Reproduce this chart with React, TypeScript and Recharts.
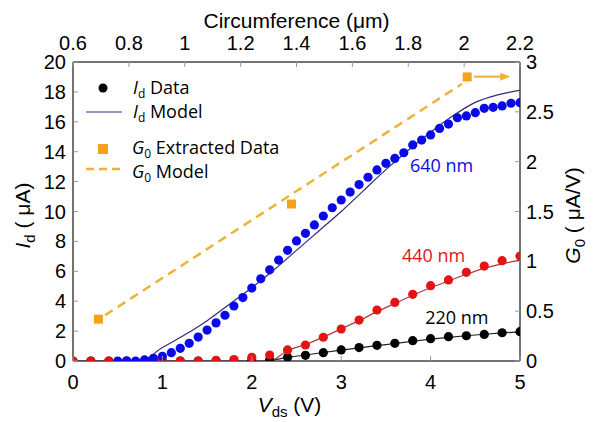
import React from 'react';
import { ComposedChart, Line, Scatter, XAxis, YAxis, Legend, ReferenceLine, ReferenceDot, Label } from 'recharts';

// Vds sweep for each device (V) and measured drain current (µA)
const vds640 = [0.5, 0.6, 0.7, 0.8, 0.9, 1.0, 1.1, 1.2, 1.3, 1.4, 1.5, 1.6, 1.7, 1.8, 1.9, 2.0, 2.1, 2.2, 2.3, 2.4, 2.5, 2.6, 2.7, 2.8, 2.9, 3.0, 3.1, 3.2, 3.3, 3.4, 3.5, 3.6, 3.7, 3.8, 3.9, 4.0, 4.1, 4.2, 4.3, 4.4, 4.5, 4.6, 4.7, 4.8, 4.9, 5.0];
const id640 = [0, 0, 0, 0.07, 0.18, 0.31, 0.56, 0.85, 1.18, 1.6, 2.07, 2.55, 3.06, 3.68, 4.24, 4.88, 5.5, 6.1, 6.75, 7.4, 8.03, 8.54, 9.1, 9.7, 10.25, 10.77, 11.3, 11.8, 12.29, 12.78, 13.22, 13.55, 13.93, 14.45, 14.78, 15.12, 15.56, 15.85, 16.27, 16.39, 16.61, 16.9, 16.97, 17.06, 17.24, 17.28];

const vds440 = [0, 0.2, 0.4, 0.6, 0.8, 1.0, 1.2, 1.4, 1.6, 1.8, 2.0, 2.2, 2.4, 2.6, 2.8, 3.0, 3.2, 3.4, 3.6, 3.8, 4.0, 4.2, 4.4, 4.6, 4.8, 5.0];
const id440 = [0, 0, 0, 0, 0, 0, 0, 0, 0.05, 0.1, 0.25, 0.4, 0.74, 1.07, 1.59, 2.14, 2.74, 3.41, 3.92, 4.46, 5.04, 5.42, 5.93, 6.35, 6.71, 7.02];

const vds220 = [0, 0.2, 0.4, 0.6, 0.8, 1.0, 1.2, 1.4, 1.6, 1.8, 2.0, 2.2, 2.4, 2.6, 2.8, 3.0, 3.2, 3.4, 3.6, 3.8, 4.0, 4.2, 4.4, 4.6, 4.8, 5.0];
const id220 = [0, 0, 0, 0, 0, 0, 0, 0, 0, 0, 0.05, 0.08, 0.25, 0.38, 0.56, 0.74, 0.9, 1.05, 1.18, 1.36, 1.49, 1.63, 1.69, 1.78, 1.89, 1.96];

// model curves
const vModel640 = [0, 0.75, 1.0, 1.25, 1.5, 1.75, 2.0, 2.25, 2.5, 2.75, 3.0, 3.25, 3.5, 3.75, 4.0, 4.25, 4.5, 4.75, 5.0];
const idModel640 = [0, 0, 0.9, 1.75, 2.7, 3.8, 4.9, 6.1, 7.4, 8.7, 10.0, 11.4, 12.8, 14.1, 15.3, 16.4, 17.3, 17.8, 18.1];
const vModel440 = [0, 2.2, 2.4, 2.6, 2.8, 3.0, 3.2, 3.4, 3.6, 3.8, 4.0, 4.2, 4.4, 4.6, 4.8, 5.0];
const idModel440 = [0, 0, 0.7, 1.1, 1.6, 2.15, 2.7, 3.3, 3.85, 4.4, 4.9, 5.35, 5.8, 6.2, 6.5, 6.75];
const vModel220 = [0, 2.15, 2.4, 2.6, 2.8, 3.0, 3.2, 3.4, 3.6, 3.8, 4.0, 4.2, 4.4, 4.6, 4.8, 5.0];
const idModel220 = [0, 0, 0.24, 0.4, 0.57, 0.73, 0.88, 1.03, 1.17, 1.32, 1.46, 1.58, 1.69, 1.79, 1.88, 1.95];

// G0 vs circumference (µm, µA/V)
const circData = [0.691, 1.382, 2.011];
const g0Data = [0.42, 1.575, 2.85];
const circModel = [0.715, 1.992];
const g0Model = [0.46, 2.78];

const vTicks = [0, 1, 2, 3, 4, 5];
const cTicks = [0.6, 0.8, 1, 1.2, 1.4, 1.6, 1.8, 2, 2.2];
const iTicks = [0, 2, 4, 6, 8, 10, 12, 14, 16, 18, 20];
const gTicks = [0, 0.5, 1, 1.5, 2, 2.5, 3];

const pts = (xs: number[], ys: number[]) => xs.map((x, i) => ({ x, y: ys[i] }));

const ARIAL = 'Liberation Sans, Arial, sans-serif';
const CALIBRI = 'Open Sans, Lato, sans-serif';
const FRAME = '#444';
const TICK = '#999';

const BLUE = '#0a0ae8';
const RED = '#e41414';
const ORANGE = '#f5a21b';
const DASH = '#eeb236';

const BottomTick = ({ x, y, payload }: any) => (
  <g>
    <line x1={x} x2={x} y1={y} y2={y - 5} stroke={TICK} />
    <text x={x} y={y + 28} textAnchor="middle" fontFamily={ARIAL} fontSize={20} fill="#000">{payload.value}</text>
  </g>
);
const TopTick = ({ x, y, payload }: any) => (
  <g>
    <line x1={x} x2={x} y1={y} y2={y + 5} stroke={TICK} />
    <text x={x} y={y - 12} textAnchor="middle" fontFamily={ARIAL} fontSize={20} fill="#000">{payload.value}</text>
  </g>
);
const LeftTick = ({ x, y, payload }: any) => (
  <g>
    <line x1={x} x2={x + 5} y1={y} y2={y} stroke={TICK} />
    <text x={x - 7} y={y + 7} textAnchor="end" fontFamily={ARIAL} fontSize={20} fill="#000">{payload.value}</text>
  </g>
);
const RightTick = ({ x, y, payload }: any) => (
  <g>
    <line x1={x} x2={x - 5} y1={y} y2={y} stroke={TICK} />
    <text x={x + 6} y={y + 7} textAnchor="start" fontFamily={ARIAL} fontSize={20} fill="#000">{payload.value}</text>
  </g>
);

const Dot = (color: string) => (p: any) => <circle cx={p.cx} cy={p.cy} r={4.6} fill={color} />;
const Square = (p: any) => <rect x={p.cx - 4.5} y={p.cy - 4.5} width={9} height={9} fill={ORANGE} />;

const Arrow = (p: any) => (
  <g>
    <line x1={p.x1} y1={p.y1} x2={p.x2 - 8} y2={p.y2} stroke={DASH} strokeWidth={2} />
    <polygon points={`${p.x2},${p.y2} ${p.x2 - 10},${p.y2 - 4} ${p.x2 - 10},${p.y2 + 4}`} fill={DASH} />
  </g>
);

const note = (text: string, color: string) => (props: any) => (
  <text x={props.viewBox.x} y={props.viewBox.y} fontFamily={CALIBRI} fontSize={18} fill={color}>{text}</text>
);

const LegendBox = () => (
  <svg width={210} height={112} style={{ display: 'block' }}>
    <circle cx={23} cy={14} r={4.5} fill="#000" />
    <text x={53} y={20} fontFamily={CALIBRI} fontSize={18} fill="#000">
      <tspan fontStyle="italic">I</tspan><tspan fontSize={12} dy={4}>d</tspan><tspan dy={-4}> Data</tspan>
    </text>
    <line x1={6} x2={42} y1={38} y2={38} stroke="#2e2e7a" strokeWidth={1.2} />
    <text x={53} y={44} fontFamily={CALIBRI} fontSize={18} fill="#000">
      <tspan fontStyle="italic">I</tspan><tspan fontSize={12} dy={4}>d</tspan><tspan dy={-4}> Model</tspan>
    </text>
    <rect x={18} y={70} width={10} height={10} fill={ORANGE} />
    <text x={52} y={80} fontFamily={CALIBRI} fontSize={18} fill="#000">
      <tspan fontStyle="italic">G</tspan><tspan fontSize={12} dy={4}>0</tspan><tspan dy={-4}> Extracted Data</tspan>
    </text>
    <line x1={6} x2={42} y1={95} y2={95} stroke={DASH} strokeWidth={2.5} strokeDasharray="8 5" />
    <text x={52} y={104} fontFamily={CALIBRI} fontSize={18} fill="#000">
      <tspan fontStyle="italic">G</tspan><tspan fontSize={12} dy={4}>0</tspan><tspan dy={-4}> Model</tspan>
    </text>
  </svg>
);

export default function App() {
  return (
    <ComposedChart width={586} height={414} margin={{ top: 0, right: 0, bottom: 0, left: 0 }}>
      <XAxis xAxisId="v" dataKey="x" type="number" domain={[0, 5]} ticks={vTicks} height={61}
        axisLine={{ stroke: FRAME, strokeWidth: 1.5 }} tickLine={false} tickSize={0} tickMargin={0} tick={BottomTick} allowDataOverflow>
        <Label content={({ viewBox }: any) => (
          <text x={viewBox.x + viewBox.width / 2 - 7} y={viewBox.y + 51} textAnchor="middle" fontFamily={ARIAL} fontSize={21} fill="#000">
            <tspan fontStyle="italic">V</tspan><tspan fontSize={15} dy={5}>ds</tspan><tspan dy={-5}> (V)</tspan>
          </text>
        )} />
      </XAxis>
      <XAxis xAxisId="c" orientation="top" dataKey="x" type="number" domain={[0.6, 2.2]} ticks={cTicks} height={54}
        axisLine={{ stroke: FRAME, strokeWidth: 1.5 }} tickLine={false} tickSize={0} tickMargin={0} tick={TopTick} allowDataOverflow>
        <Label content={({ viewBox }: any) => (
          <text x={viewBox.x + viewBox.width / 2} y={20} textAnchor="middle" fontFamily={ARIAL} fontSize={21} fill="#000">Circumference (μm)</text>
        )} />
      </XAxis>
      <YAxis yAxisId="i" dataKey="y" type="number" domain={[0, 20]} ticks={iTicks} width={65}
        axisLine={{ stroke: FRAME, strokeWidth: 1.5 }} tickLine={false} tickSize={0} tickMargin={0} tick={LeftTick} allowDataOverflow>
        <Label content={({ viewBox }: any) => {
          const cy = viewBox.y + viewBox.height / 2 + 4;
          return (
            <text x={22} y={cy} transform={`rotate(-90 22 ${cy})`} textAnchor="middle" fontFamily={ARIAL} fontSize={21} fill="#000">
              <tspan fontStyle="italic">I</tspan><tspan fontSize={15} dy={5}>d</tspan><tspan dy={-5}> ( μA)</tspan>
            </text>
          );
        }} />
      </YAxis>
      <YAxis yAxisId="g" orientation="right" dataKey="y" type="number" domain={[0, 3]} ticks={gTicks} width={74}
        axisLine={{ stroke: FRAME, strokeWidth: 1.5 }} tickLine={false} tickSize={0} tickMargin={0} tick={RightTick} allowDataOverflow>
        <Label content={({ viewBox }: any) => {
          const cy = viewBox.y + viewBox.height / 2 + 4;
          const cx = 572;
          return (
            <text x={cx} y={cy} transform={`rotate(-90 ${cx} ${cy})`} textAnchor="middle" fontFamily={ARIAL} fontSize={21} fill="#000">
              <tspan fontStyle="italic">G</tspan><tspan fontSize={15} dy={5}>0</tspan><tspan dy={-5}> ( μA/V)</tspan>
            </text>
          );
        }} />
      </YAxis>

      <Line xAxisId="c" yAxisId="g" data={pts(circModel, g0Model)} dataKey="y" type="linear" stroke={DASH} strokeWidth={2.5} strokeDasharray="9 6" dot={false} isAnimationActive={false} />
      <Scatter xAxisId="c" yAxisId="g" data={pts(circData, g0Data)} shape={Square} isAnimationActive={false} />
      <ReferenceLine xAxisId="c" yAxisId="g" segment={[{ x: 2.035, y: 2.853 }, { x: 2.165, y: 2.853 }]} shape={Arrow} />

      <Scatter xAxisId="v" yAxisId="i" data={pts(vds220, id220)} shape={Dot('#000')} isAnimationActive={false} />
      <Scatter xAxisId="v" yAxisId="i" data={pts(vds440, id440)} shape={Dot(RED)} isAnimationActive={false} />
      <Scatter xAxisId="v" yAxisId="i" data={pts(vds640, id640)} shape={Dot(BLUE)} isAnimationActive={false} />

      <Line xAxisId="v" yAxisId="i" data={pts(vModel220, idModel220)} dataKey="y" type="monotone" stroke="#222" strokeWidth={1.2} dot={false} isAnimationActive={false} />
      <Line xAxisId="v" yAxisId="i" data={pts(vModel440, idModel440)} dataKey="y" type="monotone" stroke="#b03a3a" strokeWidth={1.2} dot={false} isAnimationActive={false} />
      <Line xAxisId="v" yAxisId="i" data={pts(vModel640, idModel640)} dataKey="y" type="monotone" stroke="#2e2e7a" strokeWidth={1.2} dot={false} isAnimationActive={false} />

      <ReferenceDot xAxisId="v" yAxisId="i" x={3.77} y={12.64} r={0} fill="none" stroke="none" label={note('640 nm', BLUE)} />
      <ReferenceDot xAxisId="v" yAxisId="i" x={3.68} y={6.62} r={0} fill="none" stroke="none" label={note('440 nm', RED)} />
      <ReferenceDot xAxisId="v" yAxisId="i" x={3.94} y={2.47} r={0} fill="none" stroke="none" label={note('220 nm', '#000')} />

      <Legend content={<LegendBox />} layout="horizontal" verticalAlign="middle" align="center"
        wrapperStyle={{ position: 'absolute', left: 72, top: 66, width: 210, height: 112 }} />
    </ComposedChart>
  );
}
